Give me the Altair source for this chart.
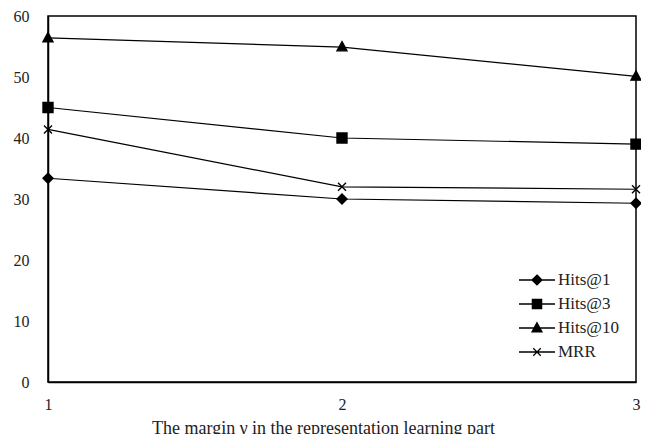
import altair as alt
import pandas as pd

margin = [1, 2, 3]
series = ["Hits@1", "Hits@3", "Hits@10", "MRR"]
hits1 = [33.4, 30.0, 29.3]
hits3 = [45.0, 40.0, 39.0]
hits10 = [56.4, 54.9, 50.1]
mrr = [41.4, 32.0, 31.6]
y_ticks = [0, 10, 20, 30, 40, 50, 60]

rows = []
for name, vals in zip(series, [hits1, hits3, hits10, mrr]):
    for m, v in zip(margin, vals):
        rows.append({"margin": m, "value": v, "series": name})
df = pd.DataFrame(rows)

FONT = "Liberation Serif"

marker_shapes = [
    "diamond",
    "square",
    "M0,-1.1L1,0.75L-1,0.75Z",
    "M-0.8,-0.8L0.8,0.8M-0.8,0.8L0.8,-0.8",
]
legend_shapes = [
    "M-1.64,0H1.64M0,-0.45L0.45,0L0,0.45L-0.45,0Z",
    "M-1.64,0H1.64M-0.42,-0.42H0.42V0.42H-0.42Z",
    "M-1.64,0H1.64M0,-0.48L0.45,0.36L-0.45,0.36Z",
    "M-1.64,0H1.64M-0.34,-0.34L0.34,0.34M-0.34,0.34L0.34,-0.34",
]

x_enc = alt.X(
    "margin:O",
    scale=alt.Scale(type="point", domain=margin, padding=0),
    axis=alt.Axis(
        ticks=False, grid=False, labelAngle=0, labelOverlap=False,
        title="The margin γ in the representation learning part",
        labelFont=FONT, labelFontSize=16, labelColor="#222", labelPadding=14,
        titleFont=FONT, titleFontSize=18, titleFontWeight="normal", titleColor="#222",
        titlePadding=7, titleX=275, titleAlign="center",
        domainColor="black", domainWidth=1.5,
    ),
)
y_enc = alt.Y(
    "value:Q",
    scale=alt.Scale(domain=[0, 60], nice=False),
    axis=alt.Axis(
        values=y_ticks, ticks=False, grid=False, title=None, labelFlush=False,
        labelOverlap=False,
        labelFont=FONT, labelFontSize=16, labelColor="#222", labelPadding=19,
        domainColor="black", domainWidth=1.5,
    ),
)

base = alt.Chart(df)

lines = base.mark_line(color="black", strokeWidth=1.2).encode(
    x=x_enc, y=y_enc, detail="series:N"
)

markers = base.mark_point(
    filled=True, fill="black", stroke="black", strokeWidth=1.4, size=100, opacity=1
).encode(
    x=x_enc,
    y=y_enc,
    shape=alt.Shape("series:N", scale=alt.Scale(domain=series, range=marker_shapes), legend=None),
)


def legend_props(show_labels):
    props = dict(
        title=None, orient="none", legendX=477, legendY=252,
        symbolSize=484, symbolStrokeWidth=1.3, symbolOpacity=1,
        symbolFillColor="black", symbolStrokeColor="black",
        labelFont=FONT, labelFontSize=17, labelColor="#222",
        labelOffset=9, rowPadding=4,
    )
    if not show_labels:
        props["labelExpr"] = "''"
    return alt.Legend(**props)


# fill part of the legend symbols (with labels)
legend_fill = base.mark_point(filled=True, color="black", opacity=0, size=484).encode(
    x=x_enc,
    y=y_enc,
    shape=alt.Shape("series2:N", scale=alt.Scale(domain=series, range=legend_shapes),
                    sort=series, legend=legend_props(True)),
).transform_calculate(series2="datum.series")

# stroke part of the legend symbols (lines and cross)
legend_stroke = base.mark_point(filled=False, color="black", opacity=0, size=484, strokeWidth=1.3).encode(
    x=x_enc,
    y=y_enc,
    shape=alt.Shape("series3:N", scale=alt.Scale(domain=series, range=legend_shapes),
                    sort=series, legend=legend_props(False)),
).transform_calculate(series3="datum.series")

chart = (
    alt.layer(lines, markers, legend_fill, legend_stroke)
    .resolve_scale(shape="independent")
    .properties(
        width=588, height=366,
        autosize=alt.AutoSizeParams(type="none"),
        padding={"left": 40, "top": 8, "right": 5, "bottom": 52},
    )
    .configure(font=FONT, style={"guide-label": {"font": FONT}, "guide-title": {"font": FONT}})
    .configure_axis(labelFont=FONT, titleFont=FONT, labelOverlap=False)
    .configure_legend(labelFont=FONT)
    .configure_view(stroke="black", strokeWidth=1.5)
)

chart.save("out.html", embed_options={"renderer": "svg", "actions": False})
